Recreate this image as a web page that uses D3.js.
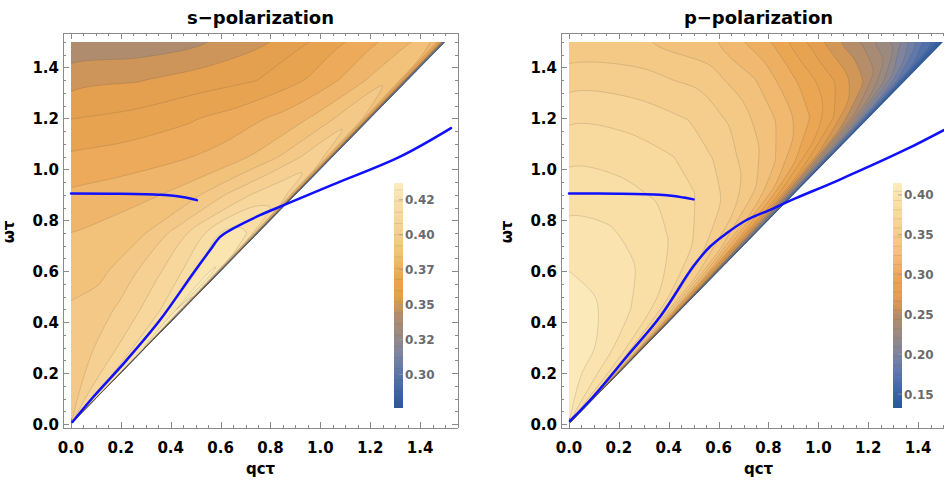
<!DOCTYPE html>
<html>
<head>
<meta charset="utf-8">
<script src="https://cdn.jsdelivr.net/npm/d3@7"></script>
<style>
body { margin: 0; background: #fff; }
svg { display: block; font-family: "DejaVu Sans", sans-serif; }
</style>
</head>
<body>
<script>
var W = 944, H = 489;

// grid columns are the fraction of the light cone u = qcτ/ωτ, rows are ωτ
var uCols = [0, 0.2, 0.4, 0.55, 0.7, 0.8, 0.88, 0.94, 0.975, 0.99, 1];
var wRows = [0, 0.1, 0.2, 0.3, 0.45, 0.6, 0.75, 0.9, 1.05, 1.2, 1.35, 1.5];

// s-polarization, one row per ωτ (bottom to top)
var sGrid = [
  [.396, .3985, .4035, .4075, .411, .4135, .417, .425, .428, .40, .30],
  [.396, .3985, .4035, .4075, .411, .4135, .417, .426, .43, .40, .30],
  [.3955, .398, .403, .407, .4105, .413, .418, .428, .431, .40, .295],
  [.395, .397, .4025, .4065, .410, .4135, .421, .43, .432, .40, .29],
  [.393, .3955, .4005, .406, .4105, .416, .426, .432, .433, .40, .29],
  [.3885, .390, .398, .405, .413, .42, .428, .433, .43, .395, .29],
  [.3841, .387, .392, .402, .414, .424, .426, .424, .415, .385, .29],
  [.3775, .380, .384, .39, .401, .408, .412, .412, .405, .375, .29],
  [.3693, .3715, .3745, .378, .385, .3925, .400, .405, .398, .37, .29],
  [.3598, .3625, .367, .372, .378, .3845, .392, .398, .392, .365, .288],
  [.3487, .3515, .3565, .3598, .3685, .3765, .3845, .391, .386, .36, .287],
  [.338, .339, .345, .353, .365, .374, .381, .387, .382, .355, .285]
];

// p-polarization
var pGrid = [
  [.410, .404, .398, .392, .386, .378, .366, .348, .305, .24, .15],
  [.410, .405, .399, .393, .387, .379, .367, .349, .31, .24, .15],
  [.410, .406, .401, .394, .388, .380, .366, .345, .30, .235, .145],
  [.410, .407, .4035, .395, .388, .378, .362, .335, .285, .225, .14],
  [.409, .406, .401, .393, .385, .373, .355, .325, .28, .215, .138],
  [.4045, .402, .395, .388, .377, .363, .345, .31, .26, .205, .136],
  [.397, .395, .388, .380, .367, .352, .33, .295, .245, .195, .135],
  [.388, .386, .380, .371, .356, .340, .318, .285, .238, .185, .135],
  [.379, .377, .370, .358, .340, .322, .298, .268, .222, .175, .135],
  [.368, .366, .358, .344, .322, .302, .279, .247, .205, .165, .135],
  [.354, .352, .343, .325, .296, .275, .253, .218, .186, .155, .135],
  [.338, .337, .324, .299, .262, .238, .214, .178, .16, .145, .135]
];

var sLevels = d3.range(0.28, 0.436, 0.008);
var pLevels = d3.range(0.14, 0.415, 0.0115);
var sRange = [0.276, 0.437];
var pRange = [0.1325, 0.415];

var sBarTicks = [0.30, 0.325, 0.35, 0.375, 0.40, 0.425];
var sBarLabels = ["0.30", "0.32", "0.35", "0.37", "0.40", "0.42"];
var pBarTicks = [0.15, 0.20, 0.25, 0.30, 0.35, 0.40];
var pBarLabels = ["0.15", "0.20", "0.25", "0.30", "0.35", "0.40"];

var axisTicks = [0, 0.2, 0.4, 0.6, 0.8, 1.0, 1.2, 1.4];

// blue curves [qcτ, ωτ]
var sUpper = [[0, .905], [.2, .904], [.36, .9], [.42, .895], [.46, .889], [.505, .879]];
var sBranch = [[.006, .008], [.09, .107], [.223, .251], [.357, .408], [.49, .592], [.558, .683],
  [.598, .735], [.651, .768], [.758, .82], [.865, .864], [1.05, .94], [1.32, 1.05], [1.524, 1.162]];
var pUpper = [[0, .905], [.2, .904], [.365, .9], [.42, .895], [.46, .889], [.5, .882]];
var pBranch = [[.004, .012], [.097, .107], [.231, .264], [.365, .421], [.498, .618], [.565, .696],
  [.632, .749], [.712, .801], [.814, .844], [.894, .88], [1.082, .958], [1.347, 1.076], [1.503, 1.154]];

// colour gradient (fraction of the colour range)
var gradStops = [0, 0.07, 0.155, 0.24, 0.32, 0.41, 0.45, 0.5, 0.58, 0.69, 0.8, 0.92, 1];
var gradColors = ["#2a5898", "#3d64a6", "#5c77ac", "#7d84a1", "#978a82", "#b38c6b", "#cf9658",
  "#e5a04e", "#eba654", "#f2c17a", "#f6d193", "#f9e0a8", "#fcecc0"];

var svg = d3.select("body").append("svg")
    .attr("width", W)
    .attr("height", H);
var defs = svg.append("defs");

function panel(o) {
  var x = d3.scaleLinear().domain([0, 1.5]).range([o.left, o.left + 374]);
  var y = d3.scaleLinear().domain([0, 1.5]).range([424, 42]);
  var col = d3.scaleLinear()
      .domain(gradStops.map(function(s) { return o.range[0] + s * (o.range[1] - o.range[0]); }))
      .range(gradColors)
      .clamp(true);

  defs.append("clipPath").attr("id", o.id + "-tri").append("path")
      .attr("d", "M" + x(0) + "," + y(0) + "L" + x(1.5) + "," + y(1.5) + "L" + x(0) + "," + y(1.5) + "Z");

  var gu = d3.scaleLinear().domain(uCols.map(function(d, i) { return i + 0.5; })).range(uCols);
  var gw = d3.scaleLinear().domain(wRows.map(function(d, i) { return i + 0.5; })).range(wRows);
  var values = [].concat.apply([], o.grid);
  var contours = d3.contours().size([uCols.length, wRows.length]).thresholds(o.levels)(values);

  var ring = d3.line()
      .curve(d3.curveCatmullRomClosed.alpha(0.5))
      .x(function(p) { return x(gu(p[0]) * gw(p[1])); })
      .y(function(p) { return y(gw(p[1])); });
  function shape(mp) {
    return mp.coordinates.map(function(poly) {
      return poly.map(function(r) { return ring(r.slice(0, -1)); }).join("");
    }).join("");
  }

  var field = svg.append("g").attr("clip-path", "url(#" + o.id + "-tri)");
  field.append("rect")
      .attr("x", x(0)).attr("y", y(1.5))
      .attr("width", x(1.5) - x(0)).attr("height", y(0) - y(1.5))
      .attr("fill", col((o.range[0] + o.levels[0]) / 2));

  field.selectAll(".band")
      .data(contours)
    .enter().append("path")
      .attr("class", "band")
      .attr("d", shape)
      .attr("fill-rule", "evenodd")
      .attr("fill", function(d, i) {
        var hi = i + 1 < o.levels.length ? o.levels[i + 1] : o.range[1];
        return col((d.value + hi) / 2);
      });

  field.selectAll(".cline")
      .data(contours)
    .enter().append("path")
      .attr("class", "cline")
      .attr("d", shape)
      .attr("fill", "none")
      .attr("stroke", "rgba(70,70,70,0.24)")
      .attr("stroke-width", 0.7);

  // frame
  var fx0 = o.left - 8, fx1 = o.left + 387, fy0 = 33, fy1 = 428;
  var frame = svg.append("g").attr("stroke", "#8a8a8a").attr("stroke-width", 1);
  frame.append("line").attr("x1", fx0).attr("x2", fx1).attr("y1", fy0 + 0.5).attr("y2", fy0 + 0.5);
  frame.append("line").attr("x1", fx0).attr("x2", fx1).attr("y1", fy1 + 0.5).attr("y2", fy1 + 0.5);
  frame.append("line").attr("x1", fx0 + 0.5).attr("x2", fx0 + 0.5).attr("y1", fy0).attr("y2", fy1);
  frame.append("line").attr("x1", fx1 + 0.5).attr("x2", fx1 + 0.5).attr("y1", fy0).attr("y2", fy1);

  var minor = d3.range(0, 1.51, 0.05);
  frame.selectAll(".tb")
      .data(minor)
    .enter().append("line")
      .attr("x1", function(d) { return Math.round(x(d)) + 0.5; })
      .attr("x2", function(d) { return Math.round(x(d)) + 0.5; })
      .attr("y1", fy1)
      .attr("y2", function(d, i) { return fy1 - (i % 4 === 0 ? 6 : 3); });
  frame.selectAll(".tt")
      .data(minor)
    .enter().append("line")
      .attr("x1", function(d) { return Math.round(x(d)) + 0.5; })
      .attr("x2", function(d) { return Math.round(x(d)) + 0.5; })
      .attr("y1", fy0)
      .attr("y2", function(d, i) { return fy0 + (i % 4 === 0 ? 6 : 3); });
  frame.selectAll(".tl")
      .data(minor)
    .enter().append("line")
      .attr("y1", function(d) { return Math.round(y(d)) + 0.5; })
      .attr("y2", function(d) { return Math.round(y(d)) + 0.5; })
      .attr("x1", fx0)
      .attr("x2", function(d, i) { return fx0 + (i % 4 === 0 ? 6 : 3); });
  frame.selectAll(".tr")
      .data(minor)
    .enter().append("line")
      .attr("y1", function(d) { return Math.round(y(d)) + 0.5; })
      .attr("y2", function(d) { return Math.round(y(d)) + 0.5; })
      .attr("x1", fx1)
      .attr("x2", function(d, i) { return fx1 - (i % 4 === 0 ? 6 : 3); });

  // blue curves
  var line = d3.line()
      .curve(d3.curveCatmullRom)
      .x(function(d) { return x(d[0]); })
      .y(function(d) { return y(d[1]); });
  [o.upper, o.branch].forEach(function(c) {
    svg.append("path")
        .datum(c)
        .attr("d", line)
        .attr("fill", "none")
        .attr("stroke", "#1010ff")
        .attr("stroke-width", 2.5)
        .attr("stroke-linecap", "round");
  });

  // tick labels
  svg.append("g").selectAll("text")
      .data(axisTicks)
    .enter().append("text")
      .attr("x", function(d) { return x(d); })
      .attr("y", 453)
      .attr("text-anchor", "middle")
      .style("font-size", "15px")
      .style("font-weight", "bold")
      .text(function(d) { return d.toFixed(1); });
  svg.append("g").selectAll("text")
      .data(axisTicks)
    .enter().append("text")
      .attr("x", fx0 - 4)
      .attr("y", function(d) { return y(d) + 5.5; })
      .attr("text-anchor", "end")
      .style("font-size", "15px")
      .style("font-weight", "bold")
      .text(function(d) { return d.toFixed(1); });

  svg.append("text")
      .attr("x", (fx0 + fx1) / 2)
      .attr("y", 24)
      .attr("text-anchor", "middle")
      .style("font-size", "18px")
      .style("font-weight", "bold")
      .text(o.title);
  svg.append("text")
      .attr("x", (fx0 + fx1) / 2)
      .attr("y", 474)
      .attr("text-anchor", "middle")
      .style("font-size", "15px")
      .style("font-weight", "bold")
      .text("qcτ");
  svg.append("text")
      .attr("transform", "translate(" + (o.left - 57) + ",232) rotate(-90)")
      .attr("text-anchor", "middle")
      .style("font-size", "15px")
      .style("font-weight", "bold")
      .text("ωτ");

  // colour bar
  var bar = d3.scaleLinear().domain(o.range).range([408, 183]);
  var grad = defs.append("linearGradient")
      .attr("id", o.id + "-grad")
      .attr("x1", 0).attr("y1", 1).attr("x2", 0).attr("y2", 0);
  grad.selectAll("stop")
      .data(gradStops)
    .enter().append("stop")
      .attr("offset", function(d) { return d; })
      .attr("stop-color", function(d, i) { return gradColors[i]; });
  svg.append("rect")
      .attr("x", o.barX).attr("y", 183)
      .attr("width", 9).attr("height", 225)
      .attr("fill", "url(#" + o.id + "-grad)");
  svg.append("g").selectAll("line")
      .data(o.levels)
    .enter().append("line")
      .attr("x1", o.barX).attr("x2", o.barX + 9)
      .attr("y1", function(d) { return bar(d); })
      .attr("y2", function(d) { return bar(d); })
      .attr("stroke", "rgba(80,80,80,0.15)")
      .attr("stroke-width", 0.8);
  svg.append("g").selectAll("line")
      .data(o.barTicks)
    .enter().append("line")
      .attr("x1", o.barX + 5).attr("x2", o.barX + 9)
      .attr("y1", function(d) { return bar(d); })
      .attr("y2", function(d) { return bar(d); })
      .attr("stroke", "#999")
      .attr("stroke-width", 0.8);
  svg.append("g").selectAll("text")
      .data(o.barTicks)
    .enter().append("text")
      .attr("x", o.barX + 11)
      .attr("y", function(d) { return bar(d) + 4.5; })
      .style("font-size", "12px")
      .style("font-weight", "bold")
      .style("fill", "#6a6a6a")
      .text(function(d, i) { return o.barLabels[i]; });
}

panel({ id: "s", left: 71, grid: sGrid, levels: sLevels, range: sRange, title: "s\u2212polarization",
  upper: sUpper, branch: sBranch, barX: 394, barTicks: sBarTicks, barLabels: sBarLabels });
panel({ id: "p", left: 569, grid: pGrid, levels: pLevels, range: pRange, title: "p\u2212polarization",
  upper: pUpper, branch: pBranch, barX: 893, barTicks: pBarTicks, barLabels: pBarLabels });
</script>
</body>
</html>
